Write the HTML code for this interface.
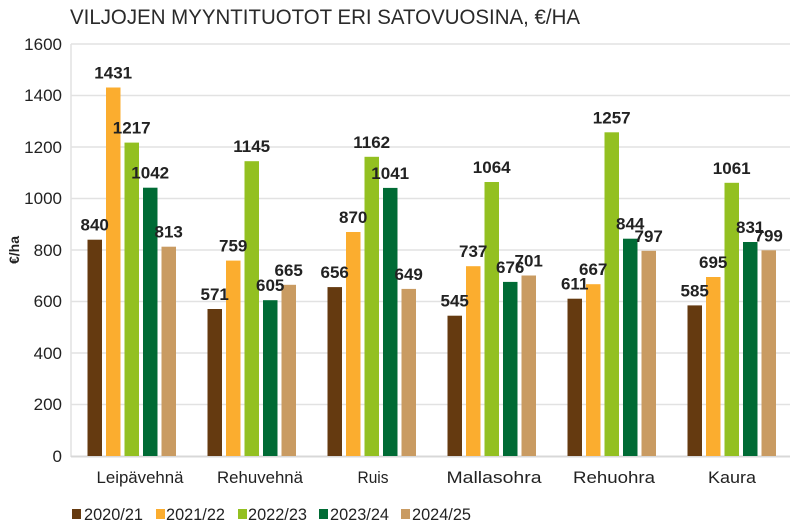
<!DOCTYPE html>
<html><head><meta charset="utf-8"><style>
body{margin:0;background:#fff;}
svg text{font-family:"Liberation Sans",sans-serif;}
</style></head><body>
<svg width="800" height="527" viewBox="0 0 800 527" xmlns="http://www.w3.org/2000/svg">
<rect width="800" height="527" fill="#fff"/>
<text x="70" y="24" font-size="21" fill="#2a2a2a" textLength="510" lengthAdjust="spacingAndGlyphs">VILJOJEN MYYNTITUOTOT ERI SATOVUOSINA, €/HA</text>
<g stroke="#e2e2e2" stroke-width="1.5">
<line x1="71" y1="44" x2="790" y2="44"/><line x1="71" y1="95.5" x2="790" y2="95.5"/>
<line x1="71" y1="147" x2="790" y2="147"/><line x1="71" y1="198.5" x2="790" y2="198.5"/>
<line x1="71" y1="250" x2="790" y2="250"/><line x1="71" y1="301.5" x2="790" y2="301.5"/>
<line x1="71" y1="353" x2="790" y2="353"/><line x1="71" y1="404.5" x2="790" y2="404.5"/>
<line x1="71" y1="44" x2="71" y2="457"/>
</g>
<line x1="71" y1="456.5" x2="790" y2="456.5" stroke="#d8d8d8" stroke-width="2"/>
<g font-size="17" fill="#222" text-anchor="end">
<text x="62" y="50">1600</text><text x="62" y="101">1400</text><text x="62" y="153">1200</text>
<text x="62" y="204">1000</text><text x="62" y="256">800</text><text x="62" y="307">600</text>
<text x="62" y="359">400</text><text x="62" y="410">200</text><text x="62" y="462">0</text>
</g>
<text transform="translate(19,250) rotate(-90)" font-size="14" font-weight="bold" fill="#222" text-anchor="middle">€/ha</text>
<g>
<rect x="87.5" y="239.7" width="14.5" height="216.3" fill="#653a10"/>
<rect x="106" y="87.5" width="14.5" height="368.5" fill="#fbad2f"/>
<rect x="124.5" y="142.6" width="14.5" height="313.4" fill="#93c021"/>
<rect x="143" y="187.7" width="14.5" height="268.3" fill="#006b35"/>
<rect x="161.5" y="246.7" width="14.5" height="209.3" fill="#c99b62"/>
<rect x="207.5" y="309" width="14.5" height="147" fill="#653a10"/>
<rect x="226" y="260.6" width="14.5" height="195.4" fill="#fbad2f"/>
<rect x="244.5" y="161.2" width="14.5" height="294.8" fill="#93c021"/>
<rect x="263" y="300.2" width="14.5" height="155.8" fill="#006b35"/>
<rect x="281.5" y="284.8" width="14.5" height="171.2" fill="#c99b62"/>
<rect x="327.5" y="287.1" width="14.5" height="168.9" fill="#653a10"/>
<rect x="346" y="232" width="14.5" height="224" fill="#fbad2f"/>
<rect x="364.5" y="156.8" width="14.5" height="299.2" fill="#93c021"/>
<rect x="383" y="187.9" width="14.5" height="268.1" fill="#006b35"/>
<rect x="401.5" y="288.9" width="14.5" height="167.1" fill="#c99b62"/>
<rect x="447.5" y="315.7" width="14.5" height="140.3" fill="#653a10"/>
<rect x="466" y="266.2" width="14.5" height="189.8" fill="#fbad2f"/>
<rect x="484.5" y="182" width="14.5" height="274" fill="#93c021"/>
<rect x="503" y="281.9" width="14.5" height="174.1" fill="#006b35"/>
<rect x="521.5" y="275.5" width="14.5" height="180.5" fill="#c99b62"/>
<rect x="567.5" y="298.7" width="14.5" height="157.3" fill="#653a10"/>
<rect x="586" y="284.2" width="14.5" height="171.8" fill="#fbad2f"/>
<rect x="604.5" y="132.3" width="14.5" height="323.7" fill="#93c021"/>
<rect x="623" y="238.7" width="14.5" height="217.3" fill="#006b35"/>
<rect x="641.5" y="250.8" width="14.5" height="205.2" fill="#c99b62"/>
<rect x="687.5" y="305.4" width="14.5" height="150.6" fill="#653a10"/>
<rect x="706" y="277" width="14.5" height="179" fill="#fbad2f"/>
<rect x="724.5" y="182.8" width="14.5" height="273.2" fill="#93c021"/>
<rect x="743" y="242" width="14.5" height="214" fill="#006b35"/>
<rect x="761.5" y="250.3" width="14.5" height="205.7" fill="#c99b62"/>
</g>
<g font-size="17" font-weight="bold" fill="#222" text-anchor="middle">
<text x="94.7" y="230.7">840</text><text x="113.2" y="78.5">1431</text><text x="131.7" y="133.6">1217</text><text x="150.2" y="178.7">1042</text><text x="168.7" y="237.7">813</text>
<text x="214.7" y="300">571</text><text x="233.2" y="251.6">759</text><text x="251.7" y="152.2">1145</text><text x="270.2" y="291.2">605</text><text x="288.7" y="275.8">665</text>
<text x="334.7" y="278.1">656</text><text x="353.2" y="223">870</text><text x="371.7" y="147.8">1162</text><text x="390.2" y="178.9">1041</text><text x="408.7" y="279.9">649</text>
<text x="454.7" y="306.7">545</text><text x="473.2" y="257.2">737</text><text x="491.7" y="173">1064</text><text x="510.2" y="272.9">676</text><text x="528.7" y="266.5">701</text>
<text x="574.7" y="289.7">611</text><text x="593.2" y="275.2">667</text><text x="611.7" y="123.3">1257</text><text x="630.2" y="229.7">844</text><text x="648.7" y="241.8">797</text>
<text x="694.7" y="296.4">585</text><text x="713.2" y="268">695</text><text x="731.7" y="173.8">1061</text><text x="750.2" y="233">831</text><text x="768.7" y="241.3">799</text>
</g>
<g font-size="17" fill="#222" text-anchor="middle">
<text x="140" y="483" textLength="87" lengthAdjust="spacingAndGlyphs">Leipävehnä</text>
<text x="260" y="483" textLength="86" lengthAdjust="spacingAndGlyphs">Rehuvehnä</text>
<text x="373" y="483" textLength="31" lengthAdjust="spacingAndGlyphs">Ruis</text>
<text x="494" y="483" textLength="95" lengthAdjust="spacingAndGlyphs">Mallasohra</text>
<text x="614" y="483" textLength="82" lengthAdjust="spacingAndGlyphs">Rehuohra</text>
<text x="732" y="483" textLength="48" lengthAdjust="spacingAndGlyphs">Kaura</text>
</g>
<g font-size="17" fill="#222">
<rect x="72" y="509" width="9" height="10" fill="#653a10"/><text x="84" y="520" textLength="59" lengthAdjust="spacingAndGlyphs">2020/21</text>
<rect x="156" y="509" width="9" height="10" fill="#fbad2f"/><text x="166" y="520" textLength="59" lengthAdjust="spacingAndGlyphs">2021/22</text>
<rect x="238" y="509" width="9" height="10" fill="#93c021"/><text x="248" y="520" textLength="59" lengthAdjust="spacingAndGlyphs">2022/23</text>
<rect x="319" y="509" width="9" height="10" fill="#006b35"/><text x="330" y="520" textLength="59" lengthAdjust="spacingAndGlyphs">2023/24</text>
<rect x="401" y="509" width="9" height="10" fill="#c99b62"/><text x="412" y="520" textLength="59" lengthAdjust="spacingAndGlyphs">2024/25</text>
</g>
</svg>
</body></html>
